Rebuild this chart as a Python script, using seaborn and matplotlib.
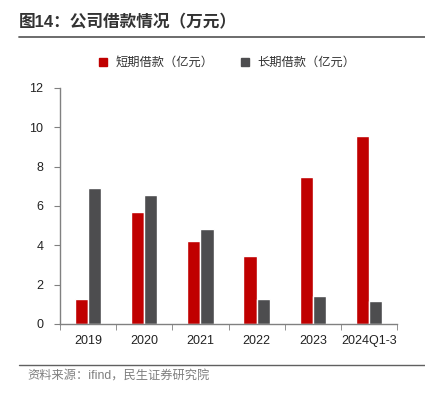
import pandas as pd
import matplotlib.pyplot as plt
import seaborn as sns
from matplotlib.lines import Line2D

# Data
years = ['2019', '2020', '2021', '2022', '2023', '2024Q1-3']
short_loans = [1.27, 5.69, 4.20, 3.46, 7.50, 9.54]
long_loans = [6.91, 6.57, 4.83, 1.28, 1.41, 1.19]
series_names = ['短期借款（亿元）', '长期借款（亿元）']
colors = ['#C00000', '#4D4D4F']

df = pd.DataFrame({
    'year': years * 2,
    'value': short_loans + long_loans,
    'series': [series_names[0]] * len(years) + [series_names[1]] * len(years),
})

sns.set_style('white')
plt.rcParams['font.family'] = ['Liberation Sans', 'Noto Sans CJK SC', 'DejaVu Sans']

fig = plt.figure(figsize=(4.25, 3.97), dpi=100)
ax = fig.add_axes([60 / 425, 1 - 324 / 397, 337 / 425, 236 / 397])

sns.barplot(data=df, x='year', y='value', hue='series', palette=colors,
            width=0.47, saturation=1, ax=ax, legend=False)

ax.set_ylim(0, 12)
ax.set_yticks(range(0, 13, 2))
ax.set_xlim(-0.5, 5.5)
ax.set_xlabel('')
ax.set_ylabel('')
for s in ['top', 'right']:
    ax.spines[s].set_visible(False)
for s in ['left', 'bottom']:
    ax.spines[s].set_color('#808080')
    ax.spines[s].set_linewidth(1)

ax.tick_params(axis='y', length=4, color='#808080', labelsize=9, colors='#222222', pad=8, direction='out', left=True)
ax.tick_params(axis='x', which='major', length=0, labelsize=9, pad=8, colors='#222222')
ax.set_xticks([i - 0.5 for i in range(7)], minor=True)
ax.tick_params(axis='x', which='minor', length=4, color='#808080', direction='out', bottom=True)

# legend
handles = [Line2D([], [], marker='s', linestyle='', color=c, markersize=6) for c in colors]
fig.legend(handles, series_names, loc='center', bbox_to_anchor=(0.525, 1 - 63 / 397),
           ncol=2, frameon=False, fontsize=8.8, handletextpad=0.0, columnspacing=1.6,
           labelcolor='#333333')

# title and source
fig.text(19 / 425, 1 - 22 / 397, '图14：公司借款情况（万元）', fontsize=12, fontweight='bold',
         color='#333333', va='center', ha='left')
fig.add_artist(Line2D([19 / 425, 1], [1 - 37 / 397] * 2, color='#606060', linewidth=1.3))
fig.add_artist(Line2D([19 / 425, 1], [1 - 365 / 397] * 2, color='#606060', linewidth=1.0))
fig.text(27 / 425, 1 - 377 / 397, '资料来源：ifind，民生证券研究院', fontsize=8.8,
         color='#7F7F7F', va='center', ha='left')

fig.savefig('out.png', dpi=100)
